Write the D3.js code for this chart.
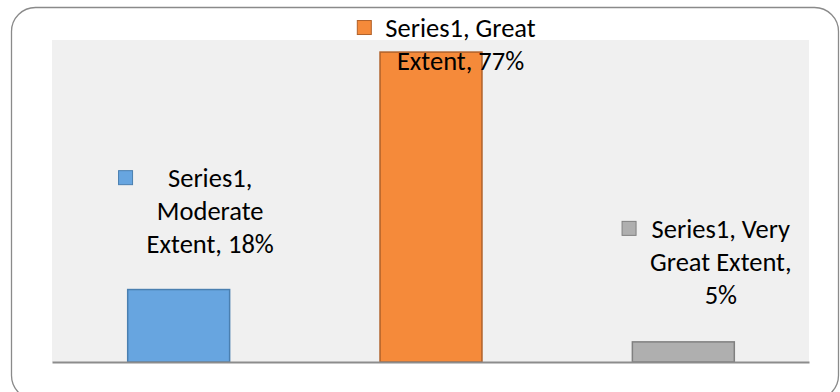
<!DOCTYPE html>
<html>
<head>
<meta charset="utf-8">
<script src="https://cdn.jsdelivr.net/npm/d3@7"></script>
<style>
  html, body { margin: 0; padding: 0; background: #fff; }
  svg { display: block; }
  text { font-family: Carlito, Calibri, Lato, sans-serif; }
</style>
</head>
<body>
<svg id="chart" width="840" height="392"></svg>
<script>
// Survey responses: extent of change, share of respondents
const seriesName = "Series1";
const categories = ["Moderate Extent", "Great Extent", "Very Great Extent"];
const values = [18, 77, 5];
const fills = ["#67a5e0", "#f58a3a", "#afafaf"];
const strokes = ["#4a7fb0", "#b0612a", "#808080"];
// Words per line when the data label wraps
const labelWordsPerLine = [[1, 1, 2], [2, 2], [2, 2, 1]];
// Label block anchor: horizontal shift from bar centre, and first-line centre y (in % units)
const labelShift = [32, 30, 38];
const labelTopPct = [45.8, 83.1, 33.2];

const svg = d3.select("#chart");

// Outer rounded frame of the chart object
svg.append("rect")
  .attr("x", 11.5).attr("y", 7.5)
  .attr("width", 827).attr("height", 392)
  .attr("rx", 24).attr("ry", 24)
  .attr("fill", "#fff")
  .attr("stroke", "#8a8a8a")
  .attr("stroke-width", 1.3);

const plot = { left: 52, right: 809, top: 40, bottom: 362 };

const x = d3.scaleBand()
  .domain(categories)
  .range([plot.left, plot.right])
  .paddingInner(0.596)
  .paddingOuter(0.298);

const y = d3.scaleLinear()
  .domain([0, 80])
  .range([plot.bottom, plot.top]);

// Plot-area background
svg.append("rect")
  .attr("x", plot.left).attr("y", plot.top)
  .attr("width", plot.right - plot.left)
  .attr("height", plot.bottom - plot.top)
  .attr("fill", "#f0f0f0");

// Bars
svg.append("g").selectAll("rect")
  .data(categories)
  .join("rect")
  .attr("x", d => x(d) + 0.5)
  .attr("y", (d, i) => y(values[i]))
  .attr("width", x.bandwidth())
  .attr("height", (d, i) => y(0) - y(values[i]))
  .attr("fill", (d, i) => fills[i])
  .attr("stroke", (d, i) => strokes[i])
  .attr("stroke-width", 1.5);

// Category axis line (no ticks or labels)
const xAxis = d3.axisBottom(x).tickSize(0).tickFormat("");
svg.append("g")
  .attr("transform", `translate(0,${plot.bottom})`)
  .call(xAxis)
  .call(g => g.select(".domain")
    .attr("stroke", "#8c8c8c")
    .attr("stroke-width", 2.2));

// Data labels with legend key
const fontSize = 26.5;
const lineH = 33;
const labels = svg.append("g");
categories.forEach((cat, i) => {
  const words = `${seriesName}, ${cat}, ${values[i]}%`.split(" ");
  const lines = [];
  let k = 0;
  labelWordsPerLine[i].forEach(n => { lines.push(words.slice(k, k + n).join(" ")); k += n; });
  const cx = x(cat) + x.bandwidth() / 2 + labelShift[i];
  const cy0 = y(labelTopPct[i]);
  const g = labels.append("g");
  const t = g.append("text")
    .attr("text-anchor", "middle")
    .attr("font-size", fontSize)
    .attr("fill", "#000");
  lines.forEach((ln, j) => {
    t.append("tspan")
      .attr("x", cx)
      .attr("y", cy0 + j * lineH)
      .attr("dy", "0.35em")
      .text(ln);
  });
  // Legend key placed left of the label's first line / block
  const first = t.select("tspan").node();
  const w0 = first.getComputedTextLength();
  const widest = d3.max(t.selectAll("tspan").nodes(), n => n.getComputedTextLength());
  const keyRight = cx - (i === 1 ? w0 : widest) / 2 - 14;
  g.append("rect")
    .attr("x", keyRight - 14)
    .attr("y", cy0 - 7)
    .attr("width", 14).attr("height", 14)
    .attr("fill", fills[i])
    .attr("stroke", strokes[i])
    .attr("stroke-width", 1);
});
</script>
</body>
</html>
